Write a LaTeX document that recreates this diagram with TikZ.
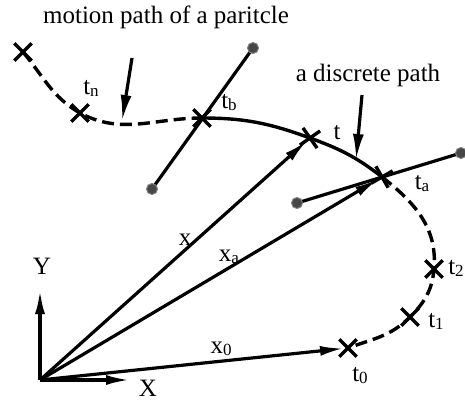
\documentclass[tikz,border=0pt]{standalone}
\usepackage{fontspec}
\setmainfont{Liberation Serif}
\usetikzlibrary{arrows.meta,shapes.misc}
\newcommand\sbs[1]{\raisebox{-0.08em}{\fontsize{17}{17}\selectfont #1}}
\begin{document}
\begin{tikzpicture}[x=1pt,y=1pt,
 lbl/.style={font=\fontsize{25}{28}\selectfont, inner sep=0pt},
 vec/.style={line width=3.2pt, -{Latex[length=24pt,width=10pt]}},
 ptr/.style={line width=3.2pt, -{Latex[length=26pt,width=11pt]}},
 crv/.style={line width=3.4pt},
 dsh/.style={crv, dash pattern=on 12pt off 6pt},
 dotm/.style={circle, fill=black!72, draw=black!50, line width=1pt, minimum size=11pt, inner sep=0pt},
 crossm/.style={cross out, draw, line width=3.4pt, minimum size=14pt, inner sep=0pt}
]
\useasboundingbox (0,0) rectangle (465,-402);
% points
\coordinate (O) at (40,-380);
\coordinate (yend) at (40,-290);
\coordinate (xend) at (130,-380);
\coordinate (A) at (23,-52);
\coordinate (tn) at (80,-113);
\coordinate (tb) at (202,-118);
\coordinate (t) at (310,-138);
\coordinate (ta) at (382,-177);
\coordinate (t2) at (434,-269);
\coordinate (t1) at (410,-317);
\coordinate (t0) at (348,-348);
% curve
\draw[dsh] (A) to[out=-50,in=150] (tn) to[out=-28,in=180] (tb);
\draw[crv] (tb) to[out=0,in=160] (t) to[out=-20,in=142] (ta);
\draw[dsh] (ta) to[out=-38,in=85] (t2) to[out=-95,in=45] (t1) to[out=-135,in=20] (t0);
% lines through tb and ta
\coordinate (db1) at (152,-189);
\coordinate (db2) at (253,-48);
\coordinate (da1) at (297,-203);
\coordinate (da2) at (461,-153);
\draw[line width=3.2pt] (db1) -- (db2);
\draw[line width=3.2pt] (da1) -- (da2);
\node[dotm] (ddb1) at (db1) {};
\node[dotm] (ddb2) at (db2) {};
\node[dotm] (dda1) at (da1) {};
\node[dotm] (dda2) at (da2) {};
% crosses
\node[crossm] (cA) at (A) {};
\node[crossm] (ctn) at (tn) {};
\node[crossm] (ctb) at (tb) {};
\node[crossm, rotate=-10] (ct) at (t) {};
\node[crossm, rotate=-15] (cta) at (ta) {};
\node[crossm] (ct2) at (t2) {};
\node[crossm] (ct1) at (t1) {};
\node[crossm] (ct0) at (t0) {};
% axes
\draw[line width=3.2pt, -{Latex[length=24pt,width=10pt]}] (O) -- (yend);
\draw[line width=3.2pt, -{Latex[length=24pt,width=10pt]}] (O) -- (xend);
% vectors
\draw[vec, shorten >=4pt] (O) -- (t);
\draw[vec, shorten >=4pt] (O) -- (ta);
\draw[vec, shorten >=4pt] (O) -- (t0);
% pointers
\coordinate (p1s) at (132,-58);
\coordinate (p1e) at (122,-121);
\coordinate (p2s) at (362,-95);
\coordinate (p2e) at (356,-160);
\draw[ptr] (p1s) -- (p1e);
\draw[ptr] (p2s) -- (p2e);
% labels
\node[lbl] (lm) at (166,-17) {motion path of a paritcle};
\node[lbl] (ld) at (368,-75) {a discrete path};
\node[lbl] (ltn) at (91,-88) {t\sbs{n}};
\node[lbl] (ltb) at (229,-103) {t\sbs{b}};
\node[lbl] (lt) at (337,-133) {t};
\node[lbl] (lta) at (422,-184) {t\sbs{a}};
\node[lbl] (lt2) at (456,-268) {t\sbs{2}};
\node[lbl] (lt1) at (436,-321) {t\sbs{1}};
\node[lbl] (lt0) at (360,-376) {t\sbs{0}};
\node[lbl] (lx) at (185,-240) {x};
\node[lbl] (lxa) at (229,-257) {x\sbs{a}};
\node[lbl] (lx0) at (221,-349) {x\sbs{0}};
\node[lbl] (lY) at (42,-266) {Y};
\node[lbl] (lX) at (148,-388) {X};
\end{tikzpicture}
\end{document}
